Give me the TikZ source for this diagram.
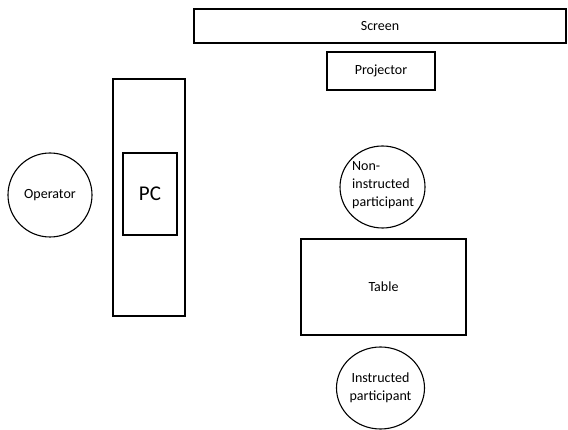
\documentclass[tikz,border=0pt]{standalone}
\usepackage{fontspec}
\setmainfont{Carlito}
\usetikzlibrary{shapes.geometric}
\begin{document}
\begin{tikzpicture}[x=1pt,y=-1pt,
  box/.style={draw,line width=1.1pt,inner sep=0pt,font=\fontsize{14}{17}\selectfont},
  person/.style={draw,line width=1.1pt,ellipse,inner sep=0pt,font=\fontsize{14}{18}\selectfont,align=left}]
\useasboundingbox (0,0) rectangle (568,430);
\node[box,minimum width=372pt,minimum height=34pt] (screen) at (380,26) {Screen};
\node[box,minimum width=108pt,minimum height=38pt] (projector) at (381,71) {Projector};
\node[box,minimum width=72pt,minimum height=237pt] (desk) at (149,197.5) {};
\node[box,minimum width=54pt,minimum height=82pt,font=\fontsize{21}{24}\selectfont] (pc) at (150,194) {PC};
\node[person,minimum width=84pt,minimum height=84pt] (operator) at (50,195) {Operator};
\node[person,minimum width=85pt,minimum height=82pt] (noninstr) at (382.5,187) {};
\node[align=left,inner sep=0pt,font=\fontsize{14}{18}\selectfont,anchor=west] (nitext) at (352,185) {Non-\\instructed\\participant};
\node[box,minimum width=165pt,minimum height=96pt] (table) at (383.5,287) {Table};
\node[person,minimum width=88pt,minimum height=82pt,align=center] (instr) at (380.5,388) {Instructed\\participant};
\end{tikzpicture}
\end{document}
